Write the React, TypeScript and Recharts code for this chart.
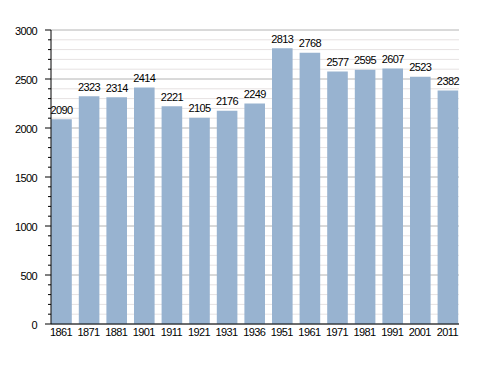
import React from "react";
import { BarChart, Bar, XAxis, YAxis, CartesianGrid, LabelList } from "recharts";

const years = ["1861", "1871", "1881", "1901", "1911", "1921", "1931", "1936", "1951", "1961", "1971", "1981", "1991", "2001", "2011"];
const population = [2090, 2323, 2314, 2414, 2221, 2105, 2176, 2249, 2813, 2768, 2577, 2595, 2607, 2523, 2382];
const yTicks = Array.from({ length: 31 }, (_, i) => i * 100);
const yLabelStep = 500;

const data = years.map((y, i) => ({ year: y, pop: population[i] }));

const FONT = "'Liberation Sans', Arial, sans-serif";
const textStyle = { fontSize: 11, fontFamily: FONT, letterSpacing: -0.6 } as const;

const YTick = (props: any) => {
  const { x, y, payload } = props;
  const v = payload.value as number;
  const major = v % yLabelStep === 0;
  return (
    <g>
      <line x1={x - (major ? 6 : 3)} x2={x} y1={y} y2={y} stroke="#000" strokeWidth={1} />
      {major && (
        <text x={x - 14} y={y + 4.5} textAnchor="end" style={textStyle} fill="#000">
          {v}
        </text>
      )}
    </g>
  );
};

const XTick = (props: any) => {
  const { x, y, payload } = props;
  return (
    <text x={x} y={y + 11.5} textAnchor="middle" style={textStyle} fill="#000">
      {payload.value}
    </text>
  );
};

const GridLine = (props: any) => {
  const { x1, x2, y1, y2, index } = props;
  const major = index % 5 === 0;
  return (
    <line
      key={`g-${index}`}
      x1={x1}
      x2={x2}
      y1={y1}
      y2={y2}
      stroke={major ? "#b4b4b4" : "#e6e2e2"}
      strokeWidth={1}
    />
  );
};

const BarLabel = (props: any) => {
  const { x, y, width, value } = props;
  return (
    <text x={x + width / 2} y={y - 5.5} textAnchor="middle" style={textStyle} fill="#000">
      {value}
    </text>
  );
};

export default function App() {
  return (
    <div style={{ position: "absolute", left: 0, top: 0, background: "#fff" }}>
      <BarChart
        width={488}
        height={373}
        data={data}
        margin={{ top: 30, right: 29, bottom: 19, left: 0 }}
        barCategoryGap={0}
      >
        <CartesianGrid vertical={false} horizontal={GridLine as any} />
        <XAxis
          dataKey="year"
          height={30}
          axisLine={{ stroke: "#000" }}
          tickLine={false}
          tickSize={0}
          tickMargin={0}
          tick={<XTick />}
          interval={0}
          padding={{ left: -3.8, right: -2.2 }}
        />
        <YAxis
          type="number"
          domain={[0, 3000]}
          ticks={yTicks}
          interval={0}
          width={51}
          axisLine={{ stroke: "#000" }}
          tickLine={false}
          tickSize={0}
          tickMargin={0}
          tick={<YTick />}
        />
        <Bar dataKey="pop" fill="#98b3d0" barSize={20.6} isAnimationActive={false}>
          <LabelList dataKey="pop" content={<BarLabel />} />
        </Bar>
      </BarChart>
    </div>
  );
}
